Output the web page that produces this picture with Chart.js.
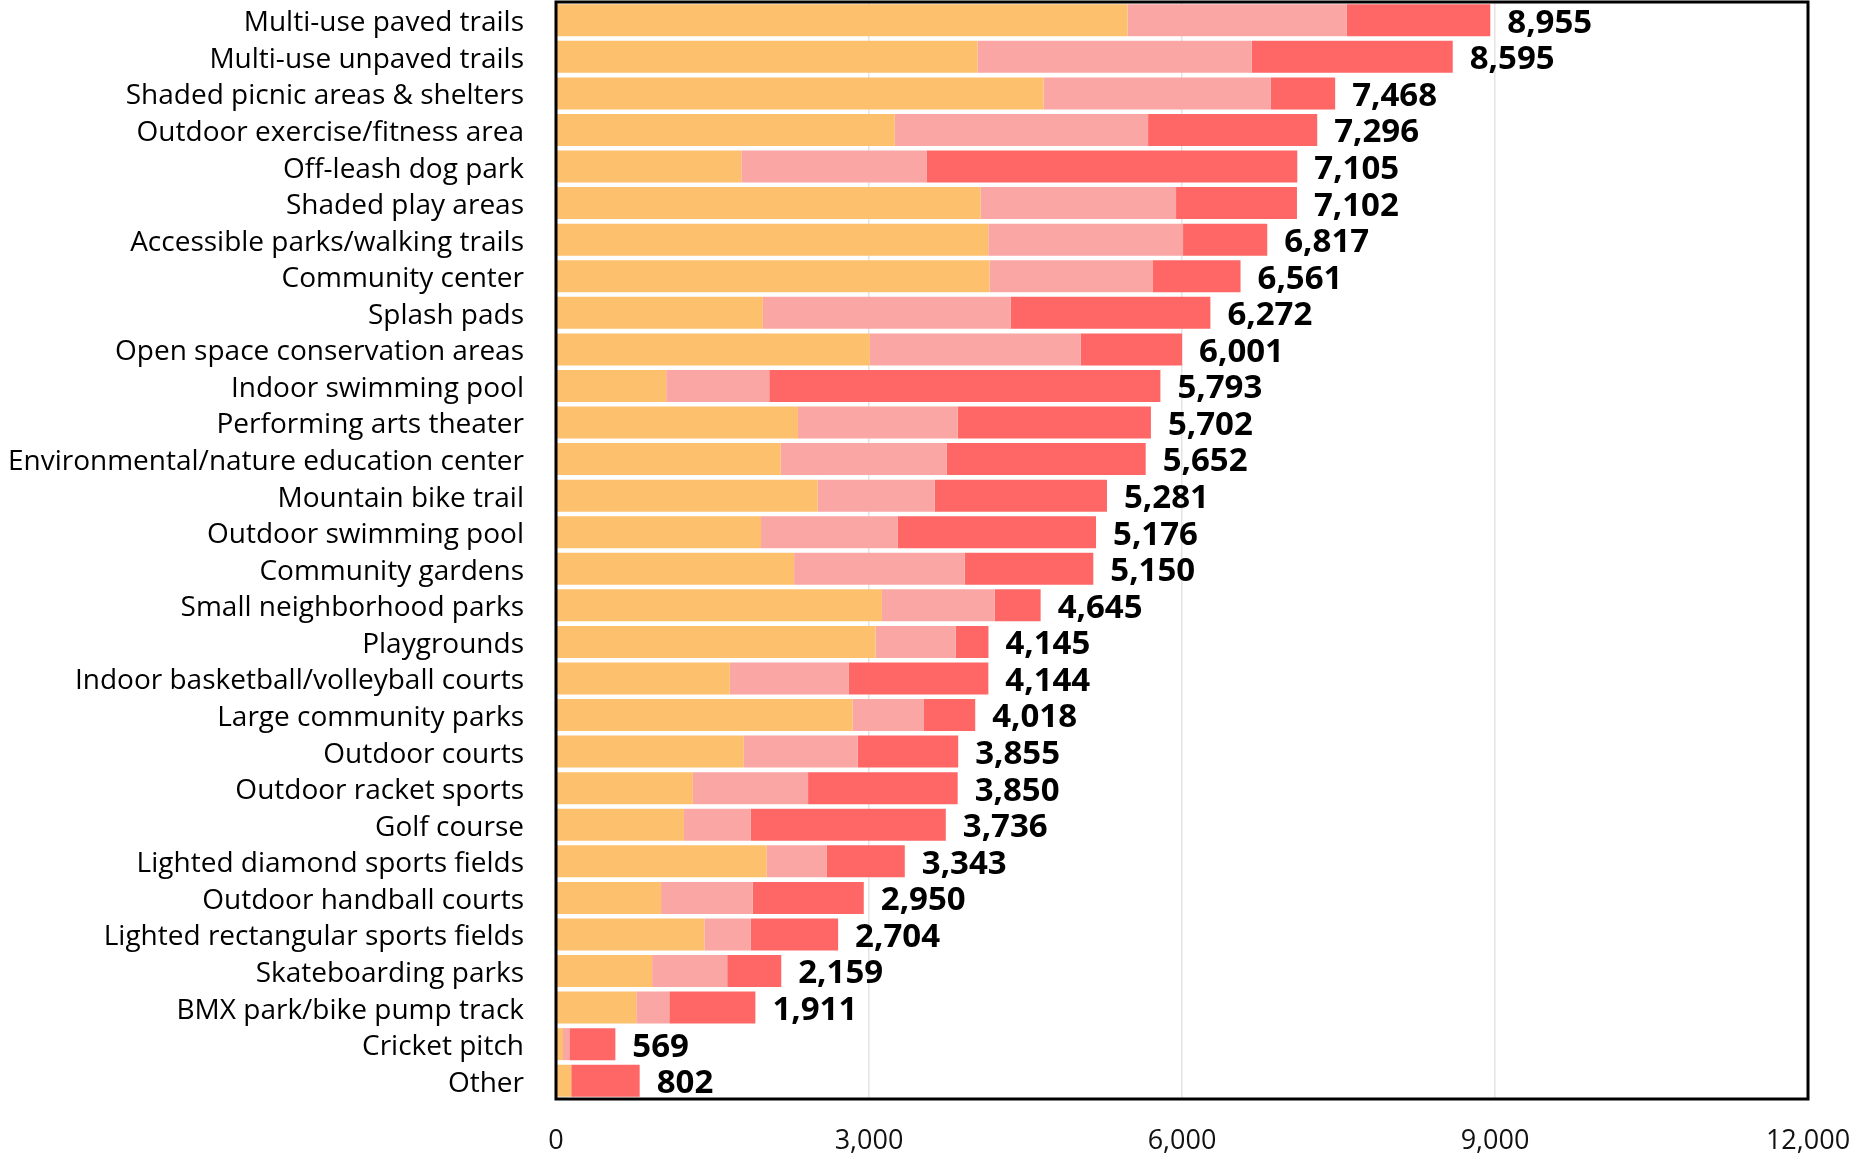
<!DOCTYPE html>
<html>
<head>
<meta charset="utf-8">
<script src="https://cdn.jsdelivr.net/npm/chart.js@4/dist/chart.umd.min.js"></script>
<style>
  html, body { margin: 0; padding: 0; background: #fff; }
  #wrap { width: 1858px; height: 1155px; }
</style>
</head>
<body>
<div id="wrap"><canvas id="chart"></canvas></div>
<script>
/* ---------- DATA ---------- */
const categories = [
  "Multi-use paved trails", "Multi-use unpaved trails", "Shaded picnic areas & shelters",
  "Outdoor exercise/fitness area", "Off-leash dog park", "Shaded play areas",
  "Accessible parks/walking trails", "Community center", "Splash pads",
  "Open space conservation areas", "Indoor swimming pool", "Performing arts theater",
  "Environmental/nature education center", "Mountain bike trail", "Outdoor swimming pool",
  "Community gardens", "Small neighborhood parks", "Playgrounds",
  "Indoor basketball/volleyball courts", "Large community parks", "Outdoor courts",
  "Outdoor racket sports", "Golf course", "Lighted diamond sports fields",
  "Outdoor handball courts", "Lighted rectangular sports fields", "Skateboarding parks",
  "BMX park/bike pump track", "Cricket pitch", "Other"
];

// three stacked segments per row (orange, light pink, red)
const seriesA = [5479, 4039, 4674, 3246, 1776, 4070, 4143, 4155, 1983, 3008,
                 1056, 2319, 2154, 2508, 1965, 2282, 3124, 3063, 1666, 2843,
                 1800, 1312, 1226, 2020, 1007, 1422, 921, 769, 67, 146];
const seriesB = [2099, 2630, 2178, 2429, 1775, 1873, 1867, 1562, 2374, 2020,
                 988, 1531, 1592, 1122, 1312, 1635, 1080, 769, 1141, 684,
                 1092, 1104, 641, 573, 878, 445, 720, 317, 61, 0];
const seriesC = [1377, 1926, 616, 1621, 3554, 1159, 807, 844, 1915, 973,
                 3749, 1852, 1906, 1651, 1899, 1233, 441, 313, 1337, 491,
                 963, 1434, 1869, 750, 1065, 837, 518, 825, 441, 656];

const xTicks = [0, 3000, 6000, 9000, 12000];

/* ---------- PLUGINS ---------- */
// black frame around the plot area
const framePlugin = {
  id: "frame",
  afterDatasetsDraw(chart) {
    const { ctx, chartArea: a } = chart;
    ctx.save();
    ctx.strokeStyle = "#000";
    ctx.lineWidth = 3;
    ctx.strokeRect(a.left, a.top, a.right - a.left, a.bottom - a.top);
    ctx.restore();
  }
};

// bold totals at the end of each stacked bar
const totalsPlugin = {
  id: "totals",
  afterDatasetsDraw(chart) {
    const { ctx } = chart;
    const meta = chart.getDatasetMeta(2);
    ctx.save();
    ctx.font = "bold 33px 'Open Sans'";
    ctx.fillStyle = "#000";
    ctx.textAlign = "left";
    ctx.textBaseline = "middle";
    meta.data.forEach((bar, i) => {
      const total = seriesA[i] + seriesB[i] + seriesC[i];
      ctx.fillText(total.toLocaleString("en-US"), bar.x + 17, bar.y + 3);
    });
    ctx.restore();
  }
};

/* ---------- CHART ---------- */
const ctx = document.getElementById("chart").getContext("2d");

new Chart(ctx, {
  type: "bar",
  data: {
    labels: categories,
    datasets: [
      { data: seriesA, backgroundColor: "#FDC06C" },
      { data: seriesB, backgroundColor: "#FAA6A4" },
      { data: seriesC, backgroundColor: "#FF6666" }
    ]
  },
  options: {
    indexAxis: "y",
    responsive: true,
    maintainAspectRatio: false,
    animation: false,
    devicePixelRatio: 1,
    layout: { padding: { top: 2, right: 50, left: 0, bottom: 0 } },
    datasets: {
      bar: { categoryPercentage: 1, barPercentage: 0.875, borderWidth: 0 }
    },
    plugins: {
      legend: { display: false },
      tooltip: { enabled: false }
    },
    scales: {
      x: {
        stacked: true,
        min: 0,
        max: 12000,
        afterBuildTicks(scale) {
          scale.ticks = xTicks.map(v => ({ value: v }));
        },
        afterFit(scale) {
          scale.height = 56;
          scale.paddingLeft = 0;
          scale.paddingRight = 0;
        },
        grid: { color: "#e4e4e4", lineWidth: 1.5, drawTicks: false },
        border: { display: false },
        ticks: {
          padding: 26,
          color: "#111",
          maxRotation: 0,
          font: { family: "'Open Sans'", size: 27 },
          callback: v => v.toLocaleString("en-US")
        }
      },
      y: {
        stacked: true,
        afterFit(scale) {
          scale.width = 556;
          scale.paddingTop = 0;
          scale.paddingBottom = 0;
        },
        grid: { display: false, drawTicks: false },
        border: { display: false },
        ticks: {
          padding: 32,
          labelOffset: 3,
          color: "#000",
          autoSkip: false,
          font: { family: "'Open Sans'", size: 28 }
        }
      }
    }
  },
  plugins: [framePlugin, totalsPlugin]
});
</script>
</body>
</html>
